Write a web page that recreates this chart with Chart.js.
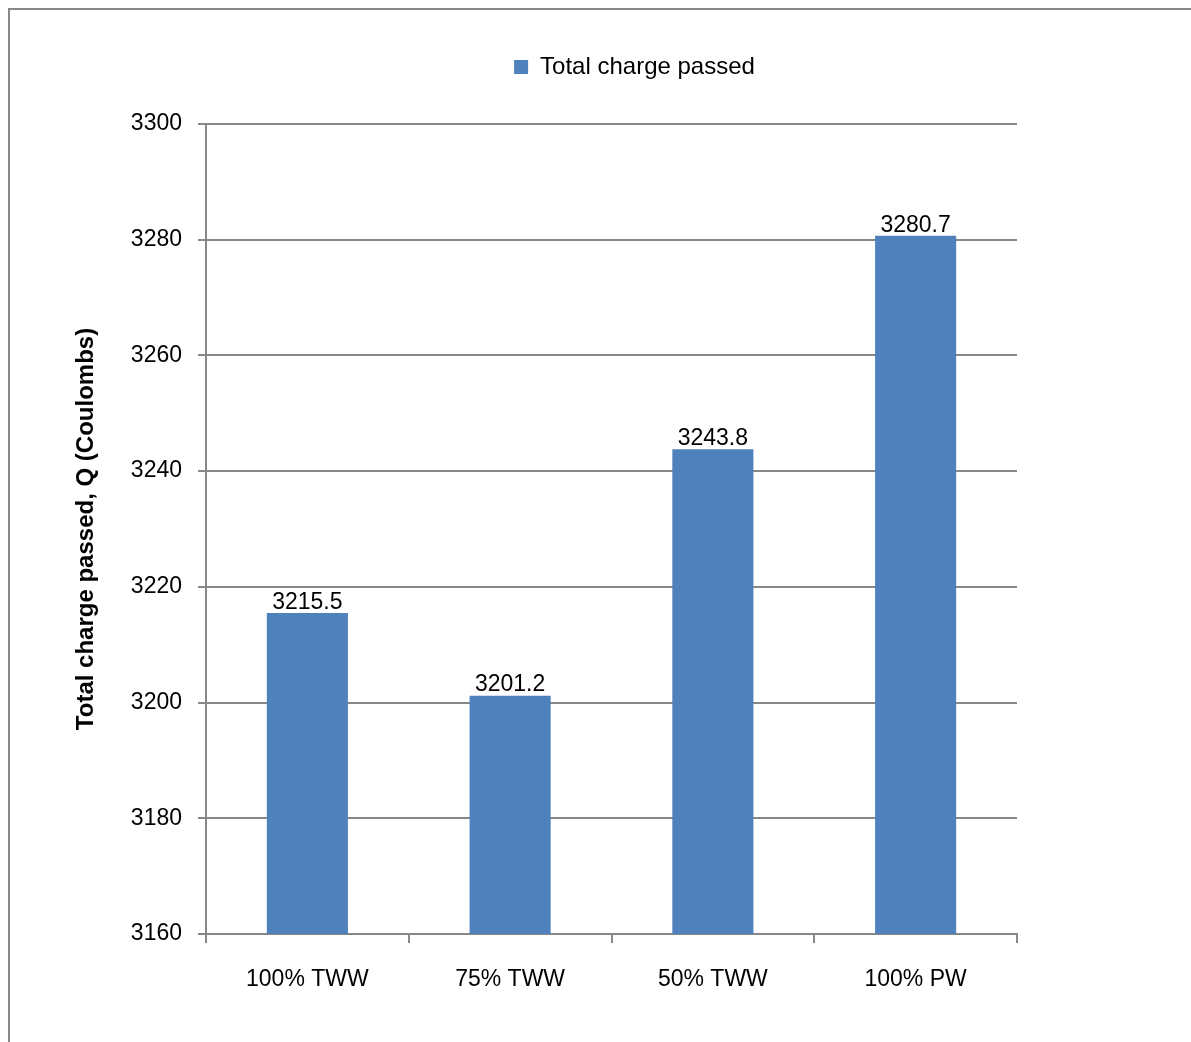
<!DOCTYPE html>
<html>
<head>
<meta charset="utf-8">
<script src="https://cdn.jsdelivr.net/npm/chart.js"></script>
<style>
  body { margin: 0; background: #fff; }
  #frame { position: absolute; left: 8px; top: 8px; width: 1200px; height: 1100px; border: 2px solid #878787; box-sizing: border-box; }
  #wrap { position: absolute; left: 0; top: 0; width: 1191px; height: 1042px; }
</style>
</head>
<body>
<div id="frame"></div>
<div id="wrap"><canvas id="chart" width="1191" height="1042"></canvas></div>
<script>
// data
const categories = ["100% TWW", "75% TWW", "50% TWW", "100% PW"];
const chargeValues = [3215.5, 3201.2, 3243.8, 3280.7];
const seriesName = "Total charge passed";
const yTitle = "Total charge passed, Q (Coulombs)";

const FONT = "'Liberation Sans', Arial, sans-serif";
const BLUE = "#4F81BD";
const GRID = "#878787";
const PAD_LEFT = 72;

// value labels above each bar
const barLabels = {
  id: "barLabels",
  afterDatasetsDraw(chart) {
    const ctx = chart.ctx;
    const meta = chart.getDatasetMeta(0);
    ctx.save();
    ctx.font = "23px " + FONT;
    ctx.fillStyle = "#000";
    ctx.textAlign = "center";
    ctx.textBaseline = "bottom";
    meta.data.forEach((bar, i) => {
      ctx.fillText(chargeValues[i].toFixed(1), bar.x, bar.y + 1);
    });
    ctx.restore();
  }
};

// legend sits a bit right of centre, like the original
const moveLegend = {
  id: "moveLegend",
  afterLayout(chart) {
    const lg = chart.legend;
    const dx = 96 - (PAD_LEFT - 60) / 2;
    lg.left += dx;
    lg.right += dx;
    const h = lg.height;
    lg.top = 62 - h / 2;
    lg.bottom = lg.top + h;
  }
};

new Chart(document.getElementById("chart"), {
  type: "bar",
  data: {
    labels: categories,
    datasets: [{
      label: seriesName,
      data: chargeValues,
      backgroundColor: BLUE,
      borderWidth: 0,
      barPercentage: 0.4,
      categoryPercentage: 1.0
    }]
  },
  options: {
    responsive: false,
    animation: false,
    devicePixelRatio: 1,
    layout: { padding: { left: PAD_LEFT, right: 174, top: 70, bottom: 10 } },
    plugins: {
      legend: {
        display: true,
        position: "top",
        labels: {
          font: { family: FONT, size: 24 },
          color: "#000",
          boxWidth: 14,
          boxHeight: 14,
          padding: 20
        }
      },
      tooltip: { enabled: false }
    },
    scales: {
      x: {
        grid: { display: true, drawOnChartArea: false, color: GRID, lineWidth: 2, tickLength: 9, offset: true },
        border: { color: GRID, width: 2 },
        ticks: { font: { family: FONT, size: 23 }, color: "#000", padding: 23 },
        afterFit(scale) { scale.height = 1042 - 934 - 10; }
      },
      y: {
        min: 3160,
        max: 3300,
        ticks: {
          stepSize: 20,
          font: { family: FONT, size: 23 },
          color: "#000",
          padding: 16,
          callback: (v) => String(v)
        },
        grid: { color: GRID, lineWidth: 2, tickLength: 8 },
        border: { color: GRID, width: 2 },
        title: {
          display: true,
          text: yTitle,
          font: { family: FONT, size: 24, weight: "bold" },
          color: "#000",
          padding: 0
        },
        afterFit(scale) { scale.width = 206 - PAD_LEFT; }
      }
    }
  },
  plugins: [barLabels, moveLegend]
});
</script>
</body>
</html>
